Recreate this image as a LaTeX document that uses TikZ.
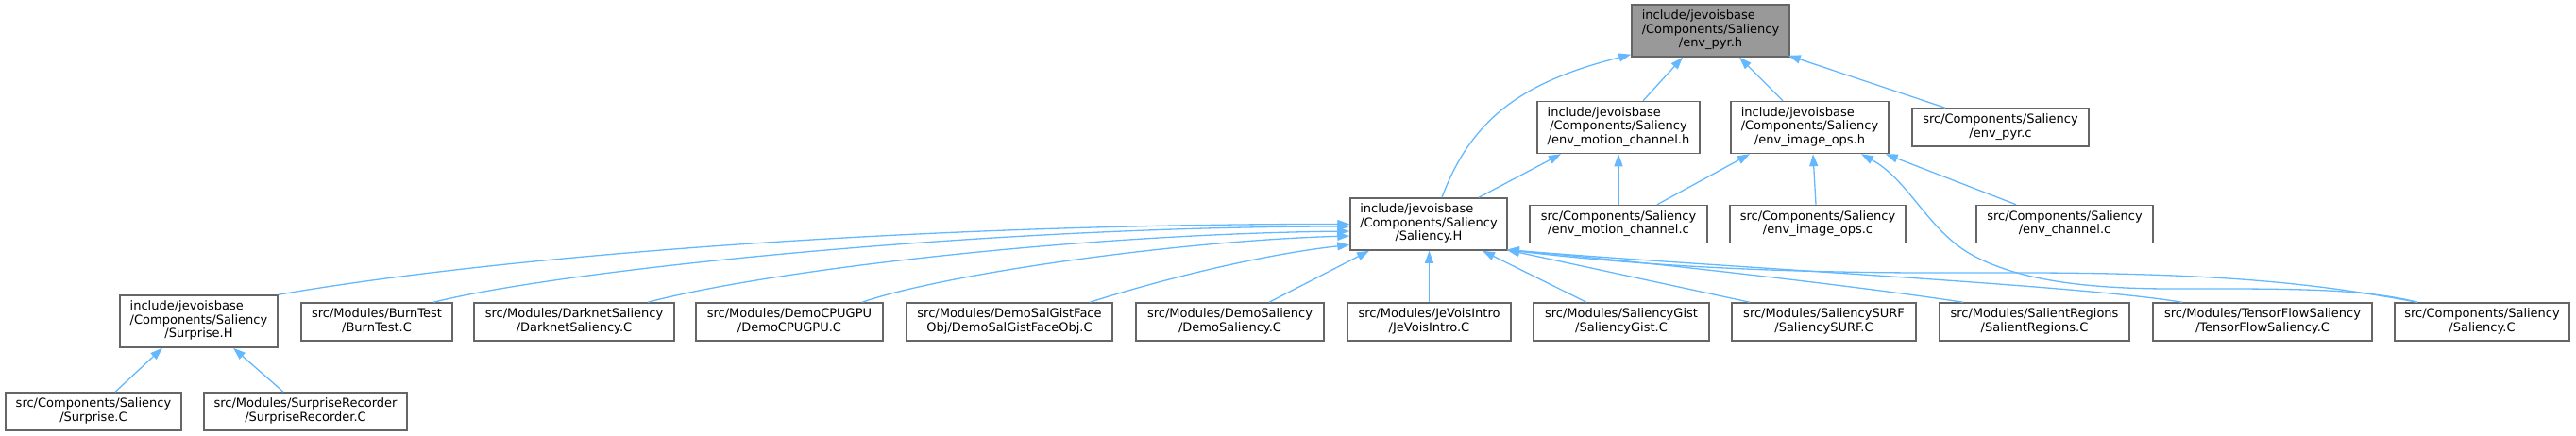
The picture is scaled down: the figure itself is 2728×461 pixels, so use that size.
\documentclass[tikz,border=0pt]{standalone}
\usepackage{fontspec}
\setmainfont{DejaVu Sans}
\usetikzlibrary{arrows.meta}
\definecolor{edgec}{HTML}{63B8FF}
\definecolor{bordc}{HTML}{666666}
\definecolor{hlc}{HTML}{999999}
\newcommand\labthree[3]{\begin{tabular}{@{}c@{}}\multicolumn{1}{@{}l@{}}{#1}\\#2\\#3\end{tabular}}
\newcommand\labtwo[2]{\begin{tabular}{@{}c@{}}#1\\#2\end{tabular}}
\begin{document}
\begin{tikzpicture}[x=1pt,y=-1pt,
  box/.style={draw=bordc, line width=1.5pt, fill=white, inner sep=0pt,
    font=\fontsize{13}{14.5}\selectfont},
  tall/.style={box, minimum height=55pt},
  flat/.style={box, minimum height=40pt},
  link/.style={draw=edgec, line width=1.3pt, -{Triangle[length=13pt,width=9pt]}}]
\useasboundingbox (0,0) rectangle (2728,461);
% top level
\node[tall, fill=hlc, minimum width=167pt] (pyrh) at (1811.5,32.5) {\labthree{include/jevoisbase}{/Components/Saliency}{/env\_pyr.h}};
% level 1
\node[tall, minimum width=172pt] (mch) at (1714,135) {\labthree{include/jevoisbase}{/Components/Saliency}{/env\_motion\_channel.h}};
\node[tall, minimum width=167pt] (ioh) at (1916.5,135) {\labthree{include/jevoisbase}{/Components/Saliency}{/env\_image\_ops.h}};
\node[flat, minimum width=187pt] (pyrc) at (2118.5,135) {\labtwo{src/Components/Saliency}{/env\_pyr.c}};
% level 2
\node[tall, minimum width=166pt] (salh) at (1513,237.5) {\labthree{include/jevoisbase}{/Components/Saliency}{/Saliency.H}};
\node[flat, minimum width=188pt] (mcc) at (1714,237.5) {\labtwo{src/Components/Saliency}{/env\_motion\_channel.c}};
\node[flat, minimum width=186pt] (ioc) at (1925,237.5) {\labtwo{src/Components/Saliency}{/env\_image\_ops.c}};
\node[flat, minimum width=187pt] (chc) at (2186.5,237.5) {\labtwo{src/Components/Saliency}{/env\_channel.c}};
% level 3
\node[tall, minimum width=167pt] (surh) at (210.5,340.5) {\labthree{include/jevoisbase}{/Components/Saliency}{/Surprise.H}};
\node[flat, minimum width=160pt] (burn) at (399,341) {\labtwo{src/Modules/BurnTest}{/BurnTest.C}};
\node[flat, minimum width=212pt] (dark) at (608,341) {\labtwo{src/Modules/DarknetSaliency}{/DarknetSaliency.C}};
\node[flat, minimum width=198pt] (cpugpu) at (836,341) {\labtwo{src/Modules/DemoCPUGPU}{/DemoCPUGPU.C}};
\node[flat, minimum width=218pt] (gistface) at (1069,341) {\labtwo{src/Modules/DemoSalGistFace}{Obj/DemoSalGistFaceObj.C}};
\node[flat, minimum width=199pt] (demosal) at (1302.5,341) {\labtwo{src/Modules/DemoSaliency}{/DemoSaliency.C}};
\node[flat, minimum width=173pt] (intro) at (1513.5,341) {\labtwo{src/Modules/JeVoisIntro}{/JeVoisIntro.C}};
\node[flat, minimum width=186pt] (gist) at (1717,341) {\labtwo{src/Modules/SaliencyGist}{/SaliencyGist.C}};
\node[flat, minimum width=195pt] (surf) at (1931.5,341) {\labtwo{src/Modules/SaliencySURF}{/SaliencySURF.C}};
\node[flat, minimum width=201pt] (regions) at (2154.5,341) {\labtwo{src/Modules/SalientRegions}{/SalientRegions.C}};
\node[flat, minimum width=232pt] (tf) at (2396,341) {\labtwo{src/Modules/TensorFlowSaliency}{/TensorFlowSaliency.C}};
\node[flat, minimum width=185pt] (salc) at (2628.5,341) {\labtwo{src/Components/Saliency}{/Saliency.C}};
% level 4
\node[flat, minimum width=186pt] (surc) at (99,436) {\labtwo{src/Components/Saliency}{/Surprise.C}};
\node[flat, minimum width=215pt] (surrec) at (323.5,436) {\labtwo{src/Modules/SurpriseRecorder}{/SurpriseRecorder.C}};
% edges to env_pyr.h
\draw[link] ([xshift=14pt]salh.north) .. controls (1560,120) and (1620,85) .. ([yshift=3pt]pyrh.south west);
\draw[link] ([xshift=26pt]mch.north) -- ([xshift=-29.5pt]pyrh.south);
\draw[link] ([xshift=-28.5pt]ioh.north) -- ([xshift=30.5pt]pyrh.south);
\draw[link] ([xshift=-58.5pt]pyrc.north) -- ([xshift=-2pt,yshift=2pt]pyrh.south east);
% edges to env_motion_channel.h
\draw[link] ([xshift=53pt]salh.north) -- ([xshift=-61pt]mch.south);
\draw[link] (mcc.north) -- (mch.south);
% edges to env_image_ops.h
\draw[link] ([xshift=41pt]mcc.north) -- ([xshift=-63.5pt]ioh.south);
\draw[link] ([xshift=-2pt]ioc.north) -- ([xshift=3.5pt]ioh.south);
\draw[link] ([xshift=-51.5pt]chc.north) -- ([xshift=-4pt]ioh.south east);
\draw[link] ([xshift=-68.5pt]salc.north) .. controls (2500,305) and (2420,306) .. (2300,306)
  .. controls (2200,306) and (2130,295) .. (2083,267)
  .. controls (2040,240) and (2020,190) .. ([xshift=54.5pt]ioh.south);
% edges to Saliency.H
\draw[link] (surh.north east) .. controls (550,268) and (1000,237) .. (salh.west);
\draw[link] ([xshift=60pt]burn.north) .. controls (600,285) and (1050,240) .. ([yshift=-2.5pt]salh.west);
\draw[link] ([xshift=78pt]dark.north) .. controls (820,285) and (1150,248) .. ([yshift=-7.5pt]salh.west);
\draw[link] ([xshift=77pt]cpugpu.north) .. controls (1000,290) and (1250,255) .. ([yshift=-12.5pt]salh.west);
\draw[link] ([xshift=85pt]gistface.north) .. controls (1250,290) and (1350,268) .. ([yshift=-22pt]salh.west);
\draw[link] ([xshift=41.5pt]demosal.north) -- ([xshift=-63pt]salh.south);
\draw[link] (intro.north) -- (intro.north |- salh.south);
\draw[link] ([xshift=-37pt]gist.north) -- ([xshift=57pt]salh.south);
\draw[link] ([xshift=-78.5pt]surf.north) -- ([xshift=-1pt,yshift=1pt]salh.south east);
\draw[link] ([xshift=-75.5pt]regions.north) .. controls (1980,305) and (1750,278) .. ([xshift=-1pt,yshift=1pt]salh.south east);
\draw[link] ([xshift=-85pt]tf.north) .. controls (2200,302) and (1850,285) .. ([xshift=-1pt,yshift=1pt]salh.south east);
\draw[link] ([xshift=-68.5pt]salc.north) .. controls (2450,300) and (2350,288) .. (2100,289)
  .. controls (1900,290) and (1750,283) .. ([xshift=-1pt,yshift=1pt]salh.south east);
% edges to Surprise.H
\draw[link] ([xshift=23pt]surc.north) -- ([xshift=-38.5pt]surh.south);
\draw[link] ([xshift=-23.5pt]surrec.north) -- ([xshift=36.5pt]surh.south);
\end{tikzpicture}
\end{document}
